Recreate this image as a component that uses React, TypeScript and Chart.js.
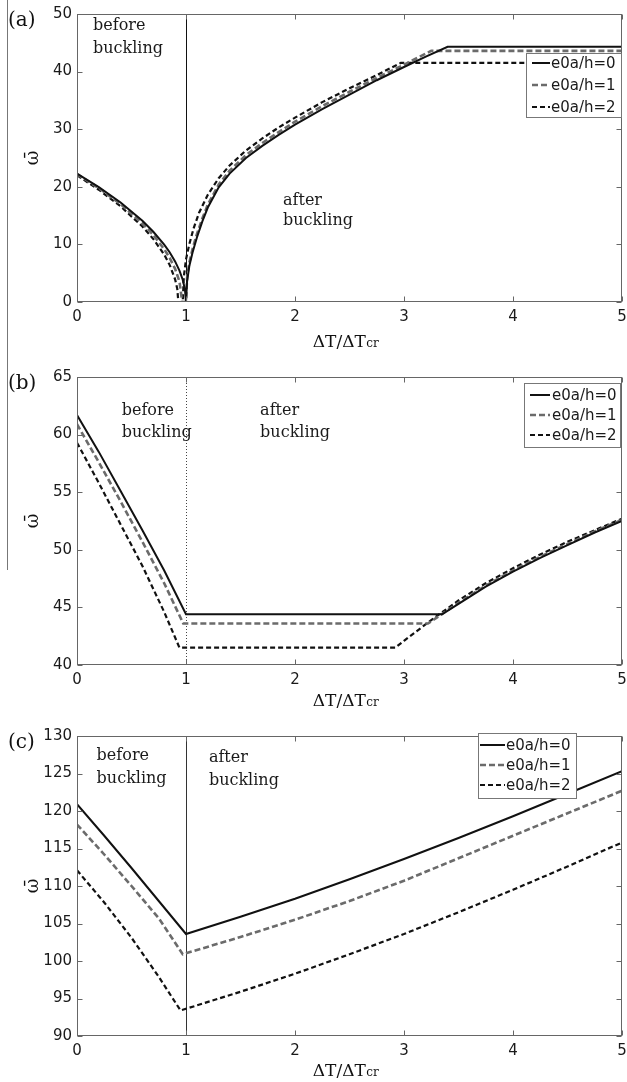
import React, { useEffect, useRef } from "react";
import { Chart, registerables } from "chart.js";

Chart.register(...registerables);

// ---------- shared ----------
const SERIES_LABELS = ["e0a/h=0", "e0a/h=1", "e0a/h=2"];
const X_TICKS = [0, 1, 2, 3, 4, 5];

// ---------- panel (a) ----------
const A_Y_TICKS = [0, 10, 20, 30, 40, 50];
const A_X0 = [0, 0.2, 0.4, 0.6, 0.7, 0.8, 0.85, 0.9, 0.94, 0.97, 0.99, 1.0, 1.01, 1.03, 1.06, 1.1, 1.15, 1.2, 1.3, 1.4, 1.55, 1.7, 1.85, 2.0, 2.25, 2.5, 2.75, 3.0, 3.2, 3.4, 5.0];
const A_Y0 = [22.3, 19.95, 17.27, 14.1, 12.2, 9.97, 8.64, 7.05, 5.46, 3.86, 2.23, 0, 3.6, 6.2, 8.6, 11.2, 14.0, 16.4, 19.9, 22.3, 25.0, 27.1, 29.0, 30.8, 33.5, 36.0, 38.5, 40.8, 42.6, 44.3, 44.3];
const A_X1 = [0, 0.2, 0.4, 0.6, 0.7, 0.8, 0.85, 0.9, 0.94, 0.965, 1.0, 1.01, 1.03, 1.06, 1.1, 1.15, 1.2, 1.3, 1.4, 1.55, 1.7, 1.85, 2.0, 2.25, 2.5, 2.75, 3.0, 3.25, 5.0];
const A_Y1 = [22.2, 19.77, 16.99, 13.65, 11.63, 9.18, 7.66, 5.76, 3.57, 0, 0, 4.2, 6.8, 9.2, 11.8, 14.5, 16.9, 20.4, 22.8, 25.5, 27.6, 29.5, 31.3, 34.0, 36.5, 38.9, 41.2, 43.6, 43.6];
const A_X2 = [0, 0.2, 0.4, 0.6, 0.7, 0.8, 0.85, 0.9, 0.92, 0.93, 0.97, 0.98, 1.0, 1.03, 1.07, 1.12, 1.2, 1.3, 1.4, 1.55, 1.7, 1.85, 2.0, 2.25, 2.5, 2.75, 2.97, 5.0];
const A_Y2 = [22.0, 19.49, 16.61, 13.1, 10.94, 8.23, 6.45, 3.95, 2.28, 0, 0, 4.4, 7.4, 10.0, 12.8, 15.5, 18.6, 21.5, 23.7, 26.3, 28.4, 30.3, 32.0, 34.7, 37.1, 39.4, 41.5, 41.5];

// ---------- panel (b) ----------
const B_Y_TICKS = [40, 45, 50, 55, 60, 65];
const B_X0 = [0, 0.2, 0.4, 0.6, 0.8, 1.0, 3.35, 3.5, 3.75, 4.0, 4.25, 4.5, 4.75, 5.0];
const B_Y0 = [61.7, 58.5, 55.1, 51.7, 48.2, 44.4, 44.4, 45.3, 46.8, 48.1, 49.3, 50.4, 51.5, 52.5];
const B_X1 = [0, 0.2, 0.4, 0.6, 0.8, 0.975, 3.22, 3.5, 3.75, 4.0, 4.25, 4.5, 4.75, 5.0];
const B_Y1 = [60.9, 57.6, 54.2, 50.7, 47.1, 43.6, 43.6, 45.4, 46.9, 48.2, 49.4, 50.5, 51.6, 52.6];
const B_X2 = [0, 0.2, 0.4, 0.6, 0.8, 0.94, 2.92, 3.0, 3.25, 3.5, 3.75, 4.0, 4.25, 4.5, 4.75, 5.0];
const B_Y2 = [59.3, 55.8, 52.2, 48.6, 44.6, 41.5, 41.5, 42.1, 43.9, 45.6, 47.1, 48.4, 49.6, 50.7, 51.7, 52.7];

// ---------- panel (c) ----------
const C_Y_TICKS = [90, 95, 100, 105, 110, 115, 120, 125, 130];
const C_X0 = [0, 0.25, 0.5, 0.75, 1.0, 1.5, 2.0, 2.5, 3.0, 3.5, 4.0, 4.5, 5.0];
const C_Y0 = [120.9, 116.7, 112.4, 108.0, 103.6, 105.9, 108.3, 110.9, 113.6, 116.4, 119.3, 122.3, 125.3];
const C_X1 = [0, 0.25, 0.5, 0.75, 0.97, 1.5, 2.0, 2.5, 3.0, 3.5, 4.0, 4.5, 5.0];
const C_Y1 = [118.2, 114.2, 110.0, 105.7, 100.9, 103.2, 105.5, 108.0, 110.7, 113.7, 116.7, 119.7, 122.7];
const C_X2 = [0, 0.25, 0.5, 0.75, 0.95, 1.5, 2.0, 2.5, 3.0, 3.5, 4.0, 4.5, 5.0];
const C_Y2 = [112.1, 107.8, 103.1, 97.9, 93.4, 95.9, 98.3, 100.9, 103.6, 106.5, 109.5, 112.6, 115.8];

// ---------- styles ----------
const SANS = '"DejaVu Sans"';
const SERIF = '"DejaVu Serif"';
const STYLES = [
  { color: "#111111", width: 2, dash: [] as number[] },
  { color: "#6b6b6b", width: 2.6, dash: [6, 3] },
  { color: "#111111", width: 2.2, dash: [5, 3] },
];
const FRAME = "#666666";

type Panel = {
  label: string;
  canvasH: number;
  padTop: number;
  xAxisH: number;
  yMin: number;
  yMax: number;
  yTicks: number[];
  series: { x: number[]; y: number[] }[];
  vline: { color: string; width: number; dash: number[] };
  notes: { x: number; y: number; text: string }[];
  legend: { rightGap: number; topOff: number; w: number; h: number; rows: number[]; s0: number; s1: number; tx: number };
  xTitleOff: number;
};

const PANELS: Panel[] = [
  {
    label: "(a)", canvasH: 360, padTop: 14, xAxisH: 58, yMin: 0, yMax: 50, yTicks: A_Y_TICKS,
    series: [{ x: A_X0, y: A_Y0 }, { x: A_X1, y: A_Y1 }, { x: A_X2, y: A_Y2 }],
    vline: { color: "#111111", width: 1, dash: [] },
    notes: [
      { x: 0.147, y: 47.2, text: "before" }, { x: 0.147, y: 43.3, text: "buckling" },
      { x: 1.89, y: 16.8, text: "after" }, { x: 1.89, y: 13.3, text: "buckling" },
    ],
    legend: { rightGap: 0, topOff: 39, w: 96, h: 64, rows: [10, 32, 54], s0: 6, s1: 24, tx: 25 },
    xTitleOff: 45,
  },
  {
    label: "(b)", canvasH: 360, padTop: 17, xAxisH: 55, yMin: 40, yMax: 65, yTicks: B_Y_TICKS,
    series: [{ x: B_X0, y: B_Y0 }, { x: B_X1, y: B_Y1 }, { x: B_X2, y: B_Y2 }],
    vline: { color: "#444444", width: 1, dash: [1, 2] },
    notes: [
      { x: 0.41, y: 61.68, text: "before" }, { x: 0.41, y: 59.76, text: "buckling" },
      { x: 1.68, y: 61.68, text: "after" }, { x: 1.68, y: 59.76, text: "buckling" },
    ],
    legend: { rightGap: 1, topOff: 6, w: 97, h: 64, rows: [12, 32, 52], s0: 6, s1: 26, tx: 28 },
    xTitleOff: 41,
  },
  {
    label: "(c)", canvasH: 362, padTop: 16, xAxisH: 46, yMin: 90, yMax: 130, yTicks: C_Y_TICKS,
    series: [{ x: C_X0, y: C_Y0 }, { x: C_X1, y: C_Y1 }, { x: C_X2, y: C_Y2 }],
    vline: { color: "#333333", width: 1, dash: [] },
    notes: [
      { x: 0.18, y: 126.8, text: "before" }, { x: 0.18, y: 123.73, text: "buckling" },
      { x: 1.21, y: 126.53, text: "after" }, { x: 1.21, y: 123.47, text: "buckling" },
    ],
    legend: { rightGap: 45, topOff: -3, w: 99, h: 65, rows: [12, 32, 52], s0: 2, s1: 27, tx: 28 },
    xTitleOff: 40,
  },
];
const PANEL_TOPS = [0, 360, 720];

function makeDecor(p: Panel) {
  return {
    id: "decor",
    beforeDatasetsDraw(chart: any) {
      const { ctx, chartArea: ca, scales } = chart;
      const px = Math.round(scales.x.getPixelForValue(1)) + 0.5;
      ctx.save();
      ctx.strokeStyle = p.vline.color;
      ctx.lineWidth = p.vline.width;
      ctx.setLineDash(p.vline.dash);
      ctx.beginPath();
      ctx.moveTo(px, ca.top);
      ctx.lineTo(px, ca.bottom);
      ctx.stroke();
      ctx.restore();
    },
    afterDraw(chart: any) {
      const { ctx, chartArea: ca, scales } = chart;
      const xs = scales.x;
      const ys = scales.y;
      ctx.save();
      // frame
      ctx.strokeStyle = FRAME;
      ctx.lineWidth = 1;
      ctx.setLineDash([]);
      const L = Math.round(ca.left) + 0.5, R = Math.round(ca.right) - 0.5;
      const T = Math.round(ca.top) + 0.5, B = Math.round(ca.bottom) - 0.5;
      ctx.strokeRect(L, T, R - L, B - T);
      // inward ticks
      ctx.beginPath();
      X_TICKS.forEach((v) => {
        const px = Math.round(xs.getPixelForValue(v)) + 0.5;
        ctx.moveTo(px, B); ctx.lineTo(px, B - 5);
        ctx.moveTo(px, T); ctx.lineTo(px, T + 5);
      });
      p.yTicks.forEach((v) => {
        const py = Math.round(ys.getPixelForValue(v)) + 0.5;
        ctx.moveTo(L, py); ctx.lineTo(L + 5, py);
        ctx.moveTo(R, py); ctx.lineTo(R - 5, py);
      });
      ctx.stroke();

      // annotations
      ctx.fillStyle = "#1a1a1a";
      ctx.font = `16px ${SERIF}`;
      ctx.textAlign = "left";
      ctx.textBaseline = "alphabetic";
      p.notes.forEach((n) => {
        ctx.fillText(n.text, xs.getPixelForValue(n.x), ys.getPixelForValue(n.y));
      });

      // legend
      const lg = p.legend;
      const lx = Math.round(ca.right - lg.rightGap - lg.w);
      const ly = Math.round(ca.top + lg.topOff);
      ctx.fillStyle = "#ffffff";
      ctx.fillRect(lx, ly, lg.w, lg.h);
      ctx.strokeStyle = "#777777";
      ctx.lineWidth = 1;
      ctx.strokeRect(lx + 0.5, ly + 0.5, lg.w - 1, lg.h);
      SERIES_LABELS.forEach((lab, i) => {
        const st = STYLES[i];
        const ry = ly + lg.rows[i];
        ctx.strokeStyle = st.color;
        ctx.lineWidth = st.width;
        ctx.setLineDash(st.dash);
        ctx.beginPath();
        ctx.moveTo(lx + lg.s0, ry);
        ctx.lineTo(lx + lg.s1, ry);
        ctx.stroke();
        ctx.setLineDash([]);
        ctx.fillStyle = "#1a1a1a";
        ctx.font = `15px ${SANS}`;
        ctx.textBaseline = "middle";
        ctx.fillText(lab, lx + lg.tx, ry + 1);
      });

      // panel label
      ctx.fillStyle = "#111111";
      ctx.font = `20px ${SERIF}`;
      ctx.textBaseline = "alphabetic";
      ctx.textAlign = "left";
      ctx.fillText(p.label, 8, ca.top + 12);

      // y title (omega bar), rotated
      ctx.save();
      ctx.translate(33, (ca.top + ca.bottom) / 2);
      ctx.rotate(-Math.PI / 2);
      ctx.font = `18px ${SERIF}`;
      ctx.textAlign = "center";
      ctx.textBaseline = "middle";
      ctx.fillText("\u03C9\u0304", 0, 0);
      ctx.restore();

      // x title with smaller "cr"
      const main = "\u0394T/\u0394T";
      const sub = "cr";
      ctx.font = `17px ${SERIF}`;
      const wMain = ctx.measureText(main).width;
      ctx.font = `12px ${SERIF}`;
      const wSub = ctx.measureText(sub).width;
      const cx = (ca.left + ca.right) / 2 - 4;
      const x0 = cx - (wMain + wSub) / 2;
      const by = ca.bottom + p.xTitleOff;
      ctx.textAlign = "left";
      ctx.textBaseline = "alphabetic";
      ctx.font = `17px ${SERIF}`;
      ctx.fillText(main, x0, by);
      ctx.font = `12px ${SERIF}`;
      ctx.fillText(sub, x0 + wMain + 0.5, by);
      ctx.restore();
    },
  };
}

function buildConfig(p: Panel): any {
  return {
    type: "line",
    data: {
      datasets: p.series.map((s, i) => ({
        label: SERIES_LABELS[i],
        data: s.x.map((x, j) => ({ x, y: s.y[j] })),
        borderColor: STYLES[i].color,
        borderWidth: STYLES[i].width,
        borderDash: STYLES[i].dash,
        pointRadius: 0,
        tension: 0,
        fill: false,
      })),
    },
    options: {
      animation: false,
      responsive: false,
      maintainAspectRatio: false,
      events: [],
      layout: { padding: { top: p.padTop, right: 5, left: 0, bottom: 0 } },
      plugins: { legend: { display: false }, tooltip: { enabled: false } },
      scales: {
        x: {
          type: "linear",
          min: 0,
          max: 5,
          afterBuildTicks: (s: any) => { s.ticks = X_TICKS.map((v) => ({ value: v })); },
          afterFit: (s: any) => { s.height = p.xAxisH; s.paddingRight = 0; s.paddingLeft = 0; },
          grid: { display: false, drawTicks: false },
          border: { display: false },
          ticks: { autoSkip: false, maxRotation: 0, padding: 6, color: "#1a1a1a", font: { family: SANS, size: 15 } },
        },
        y: {
          type: "linear",
          min: p.yMin,
          max: p.yMax,
          afterBuildTicks: (s: any) => { s.ticks = p.yTicks.map((v) => ({ value: v })); },
          afterFit: (s: any) => { s.width = 77; },
          grid: { display: false, drawTicks: false },
          border: { display: false },
          ticks: { autoSkip: false, padding: 5, color: "#1a1a1a", font: { family: SANS, size: 15 } },
        },
      },
    },
    plugins: [makeDecor(p)],
  };
}

function PanelChart({ p, top }: { p: Panel; top: number }) {
  const ref = useRef<HTMLCanvasElement>(null);
  useEffect(() => {
    const chart = new Chart(ref.current as HTMLCanvasElement, buildConfig(p));
    return () => chart.destroy();
  }, []);
  return (
    <canvas
      ref={ref}
      width={627}
      height={p.canvasH}
      style={{ position: "absolute", left: 0, top, width: 627, height: p.canvasH }}
    />
  );
}

export default function App() {
  return (
    <div style={{ position: "absolute", left: 0, top: 0, width: 627, height: 1082, background: "#ffffff" }}>
      {PANELS.map((p, i) => (
        <PanelChart key={p.label} p={p} top={PANEL_TOPS[i]} />
      ))}
      <div style={{ position: "absolute", left: 7, top: 0, width: 1, height: 570, background: "#777777" }} />
    </div>
  );
}
